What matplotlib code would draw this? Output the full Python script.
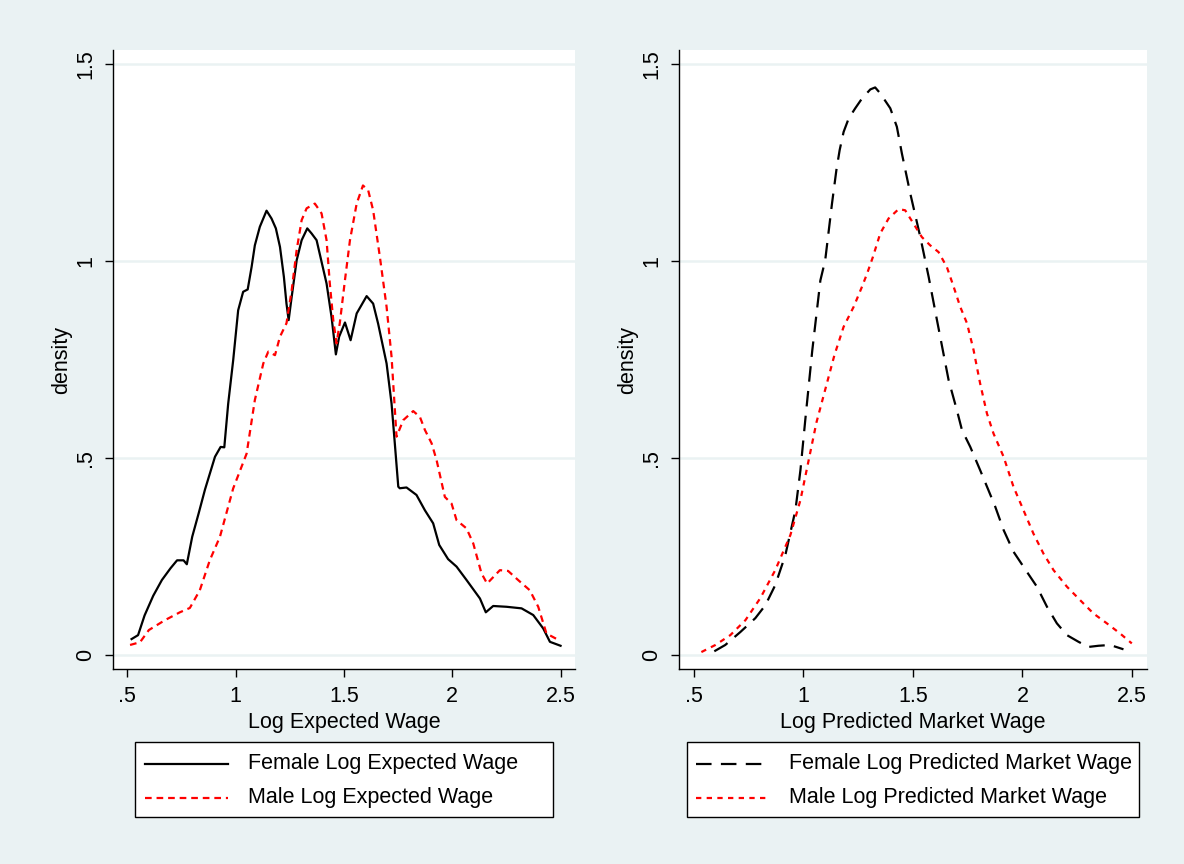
import numpy as np
import matplotlib.pyplot as plt
from matplotlib.lines import Line2D
from matplotlib.patches import Rectangle

plt.rcParams['font.family'] = ['Liberation Sans', 'DejaVu Sans']

# Left panel: log expected wage densities
fem_exp_x = [0.52, 0.55, 0.58, 0.62, 0.66, 0.70, 0.73, 0.76, 0.775, 0.80, 0.83, 0.859,
             0.905, 0.931, 0.948, 0.966, 0.989, 1.012, 1.035, 1.056, 1.074, 1.089, 1.112,
             1.143, 1.166, 1.186, 1.205, 1.223, 1.235, 1.245, 1.259, 1.282, 1.305, 1.331,
             1.351, 1.374, 1.397, 1.42, 1.443, 1.463, 1.478, 1.505, 1.531, 1.559, 1.605,
             1.635, 1.658, 1.697, 1.72, 1.735, 1.751, 1.758, 1.789, 1.835, 1.874, 1.912,
             1.94, 1.981, 2.02, 2.066, 2.128, 2.155, 2.189, 2.251, 2.32, 2.374, 2.42,
             2.451, 2.5]
fem_exp_y = [0.04, 0.05, 0.10, 0.15, 0.19, 0.22, 0.24, 0.24, 0.23, 0.30, 0.36, 0.42,
             0.503, 0.528, 0.527, 0.638, 0.748, 0.875, 0.922, 0.928, 0.985, 1.04, 1.087,
             1.128, 1.108, 1.083, 1.036, 0.96, 0.892, 0.85, 0.909, 1.002, 1.053, 1.083,
             1.07, 1.053, 0.998, 0.943, 0.858, 0.763, 0.808, 0.844, 0.799, 0.867, 0.911,
             0.892, 0.841, 0.74, 0.638, 0.537, 0.427, 0.423, 0.425, 0.406, 0.367, 0.334,
             0.279, 0.243, 0.224, 0.19, 0.143, 0.108, 0.124, 0.122, 0.118, 0.101, 0.067,
             0.033, 0.023]

male_exp_x = [0.513, 0.559, 0.60, 0.674, 0.743, 0.789, 0.835, 0.881, 0.928, 0.989,
              1.051, 1.089, 1.128, 1.151, 1.182, 1.205, 1.235, 1.259, 1.282, 1.305, 1.328,
              1.366, 1.397, 1.42, 1.435, 1.451, 1.466, 1.481, 1.505, 1.528, 1.559, 1.588,
              1.612, 1.635, 1.666, 1.697, 1.72, 1.743, 1.774, 1.82, 1.851, 1.874, 1.905,
              1.928, 1.966, 1.997, 2.02, 2.066, 2.097, 2.135, 2.161, 2.22, 2.258, 2.304,
              2.358, 2.397, 2.435, 2.493]
male_exp_y = [0.025, 0.032, 0.063, 0.088, 0.108, 0.119, 0.164, 0.24, 0.30, 0.4226,
              0.511, 0.647, 0.74, 0.77, 0.761, 0.808, 0.842, 0.926, 1.028, 1.104, 1.134,
              1.146, 1.121, 1.053, 0.943, 0.85, 0.791, 0.842, 0.952, 1.053, 1.146, 1.192,
              1.18, 1.129, 1.011, 0.884, 0.757, 0.554, 0.596, 0.619, 0.604, 0.571, 0.537,
              0.494, 0.401, 0.384, 0.342, 0.321, 0.283, 0.207, 0.181, 0.215, 0.213, 0.19,
              0.164, 0.122, 0.054, 0.037]

# Right panel: log predicted market wage densities
fem_pred_x = [0.594, 0.644, 0.713, 0.781, 0.827, 0.872, 0.918, 0.964, 0.987, 1.009,
              1.041, 1.078, 1.1, 1.131, 1.151, 1.166, 1.184, 1.207, 1.237, 1.268, 1.306,
              1.328, 1.351, 1.397, 1.427, 1.45, 1.488, 1.534, 1.572, 1.61, 1.663, 1.701,
              1.724, 1.762, 1.807, 1.845, 1.876, 1.914, 1.959, 2.02, 2.066, 2.112, 2.157,
              2.203, 2.256, 2.301, 2.347, 2.4, 2.461]
fem_pred_y = [0.009, 0.025, 0.058, 0.093, 0.126, 0.177, 0.253, 0.367, 0.469, 0.596,
              0.773, 0.951, 1.002, 1.146, 1.231, 1.282, 1.328, 1.362, 1.388, 1.413, 1.436,
              1.441, 1.426, 1.388, 1.341, 1.273, 1.172, 1.061, 0.96, 0.85, 0.698, 0.621,
              0.571, 0.528, 0.469, 0.418, 0.376, 0.317, 0.262, 0.211, 0.173, 0.122, 0.08,
              0.05, 0.033, 0.02, 0.023, 0.025, 0.014]

male_pred_x = [0.535, 0.599, 0.667, 0.736, 0.804, 0.872, 0.941, 0.987, 1.06, 1.142,
               1.184, 1.23, 1.268, 1.291, 1.318, 1.351, 1.389, 1.435, 1.465, 1.503, 1.541,
               1.579, 1.617, 1.655, 1.686, 1.716, 1.747, 1.777, 1.807, 1.838, 1.868, 1.914,
               1.959, 2.005, 2.05, 2.096, 2.142, 2.203, 2.263, 2.324, 2.385, 2.446, 2.499]
male_pred_y = [0.007, 0.025, 0.05, 0.088, 0.144, 0.215, 0.304, 0.393, 0.59, 0.761,
               0.833, 0.884, 0.935, 0.968, 1.011, 1.07, 1.108, 1.132, 1.129, 1.095, 1.061,
               1.04, 1.023, 0.985, 0.935, 0.884, 0.842, 0.774, 0.689, 0.613, 0.562, 0.503,
               0.427, 0.367, 0.308, 0.257, 0.215, 0.173, 0.139, 0.105, 0.08, 0.054, 0.029]

x_ticks = [0.5, 1, 1.5, 2, 2.5]
x_ticklabels = ['.5', '1', '1.5', '2', '2.5']
y_ticks = [0, 0.5, 1, 1.5]
y_ticklabels = ['0', '.5', '1', '1.5']

bg = '#EAF2F3'
red = '#FF0000'
FS = 15.5

styles = {
    'solid': dict(color='black', lw=1.6, ls='-'),
    'short': dict(color=red, lw=1.6, ls=(0, (3.0, 2.2))),
    'long': dict(color='black', lw=1.6, ls=(0, (7.0, 4.2))),
    'dot': dict(color=red, lw=1.6, ls=(0, (2.4, 2.4))),
}

fig = plt.figure(figsize=(11.84, 8.64), dpi=100, facecolor=bg)
ax1 = fig.add_axes([0.0952, 0.2257, 0.3905, 0.7164])
ax2 = fig.add_axes([0.5735, 0.2257, 0.395, 0.7164])

panels = [
    (ax1, 'Log Expected Wage',
     [(fem_exp_x, fem_exp_y, 'solid', 'Female Log Expected Wage'),
      (male_exp_x, male_exp_y, 'short', 'Male Log Expected Wage')]),
    (ax2, 'Log Predicted Market Wage',
     [(fem_pred_x, fem_pred_y, 'long', 'Female Log Predicted Market Wage'),
      (male_pred_x, male_pred_y, 'dot', 'Male Log Predicted Market Wage')]),
]

for ax, xlabel, series in panels:
    ax.set_facecolor('white')
    for yv in y_ticks:
        ax.axhline(yv, color=bg, lw=1.8, zorder=0)
    for xs, ys, st, lab in series:
        ax.plot(xs, ys, **styles[st], zorder=3)
    ax.set_xlim(0.433, 2.567)
    ax.set_ylim(-0.036, 1.536)
    ax.set_xticks(x_ticks)
    ax.set_xticklabels(x_ticklabels, fontsize=FS)
    ax.set_yticks(y_ticks)
    ax.set_yticklabels(y_ticklabels, fontsize=FS, rotation=90, va='center')
    ax.tick_params(direction='out', length=6, width=1, pad=6)
    for s in ['top', 'right']:
        ax.spines[s].set_visible(False)
    for s in ['left', 'bottom']:
        ax.spines[s].set_linewidth(1)
    ax.set_xlabel(xlabel, fontsize=FS, labelpad=4)
    ax.set_ylabel('density', fontsize=FS, labelpad=2)


def draw_legend(box, line_x, text_x, series):
    x0, x1, y0, y1 = [v / d for v, d in zip(box, (1184, 1184, 864, 864))]
    fig.add_artist(Rectangle((x0, 1 - y1), x1 - x0, y1 - y0, transform=fig.transFigure,
                             facecolor='white', edgecolor='black', lw=1))
    for (xs, ys, st, lab), yp in zip(series, (764, 798)):
        yf = 1 - yp / 864
        fig.add_artist(Line2D([line_x[0] / 1184, line_x[1] / 1184], [yf, yf],
                              transform=fig.transFigure, **styles[st]))
        fig.text(text_x / 1184, yf, lab, fontsize=FS, va='center', ha='left')


draw_legend((135, 553, 742, 817), (145, 228), 248, panels[0][2])
draw_legend((687, 1139, 742, 817), (696, 767), 789, panels[1][2])

fig.savefig('out.png', dpi=100, facecolor=bg)
